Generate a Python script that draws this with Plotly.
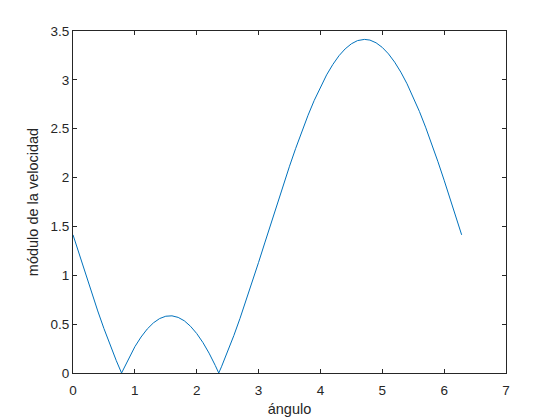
import plotly.graph_objects as go

angulo = [0, 0.1, 0.2, 0.3, 0.4, 0.5, 0.6, 0.7, 0.785, 0.9, 1.0, 1.1, 1.2, 1.3, 1.4, 1.5, 1.571,
          1.6, 1.7, 1.8, 1.9, 2.0, 2.1, 2.2, 2.3, 2.356, 2.4, 2.5, 2.6, 2.7, 2.8, 2.9, 3.0,
          3.1, 3.2, 3.3, 3.4, 3.5, 3.6, 3.7, 3.8, 3.9, 4.0, 4.1, 4.2, 4.3, 4.4, 4.5, 4.6,
          4.712, 4.8, 4.9, 5.0, 5.1, 5.2, 5.3, 5.4, 5.5, 5.6, 5.7, 5.8, 5.9, 6.0, 6.1, 6.2, 6.283]
modulo = [1.414, 1.215, 1.017, 0.823, 0.635, 0.455, 0.285, 0.126, 0.0, 0.152, 0.269, 0.368,
          0.450, 0.513, 0.557, 0.581, 0.586, 0.585, 0.569, 0.534, 0.478, 0.404, 0.312, 0.203,
          0.077, 0.0, 0.063, 0.217, 0.383, 0.559, 0.744, 0.936, 1.132, 1.331, 1.531, 1.730,
          1.925, 2.116, 2.299, 2.474, 2.638, 2.790, 2.928, 3.051, 3.157, 3.247, 3.317, 3.369,
          3.402, 3.414, 3.407, 3.379, 3.332, 3.266, 3.181, 3.079, 2.960, 2.825, 2.677, 2.516,
          2.343, 2.162, 1.973, 1.779, 1.580, 1.414]

x_ticks = [0, 1, 2, 3, 4, 5, 6, 7]
y_ticks = [0, 0.5, 1, 1.5, 2, 2.5, 3, 3.5]

fig = go.Figure(go.Scatter(x=angulo, y=modulo, mode="lines",
                           line=dict(color="#0072BD", width=1)))

tick_font = dict(family="Liberation Sans", size=13.5, color="#262626")
title_font = dict(family="Liberation Sans", size=14.5, color="#262626")
axis_common = dict(showline=True, mirror="ticks", linecolor="#262626", linewidth=1,
                   ticks="inside", ticklen=4, tickcolor="#262626", showgrid=False,
                   zeroline=False, tickfont=tick_font, automargin=False)

fig.update_xaxes(range=[0, 7], tickvals=x_ticks, ticktext=[str(v) for v in x_ticks],
                 ticklabelstandoff=5,
                 title=dict(text="ángulo", font=title_font, standoff=6), **axis_common)
fig.update_yaxes(range=[0, 3.5], tickvals=y_ticks, ticktext=[f"{v:g}" for v in y_ticks],
                 title=dict(text="módulo de la velocidad", font=title_font, standoff=8),
                 **axis_common)

fig.update_layout(width=552, height=412, margin=dict(l=65, r=54, t=23, b=47),
                  paper_bgcolor="white", plot_bgcolor="white", showlegend=False)

fig.write_html("out.html")
